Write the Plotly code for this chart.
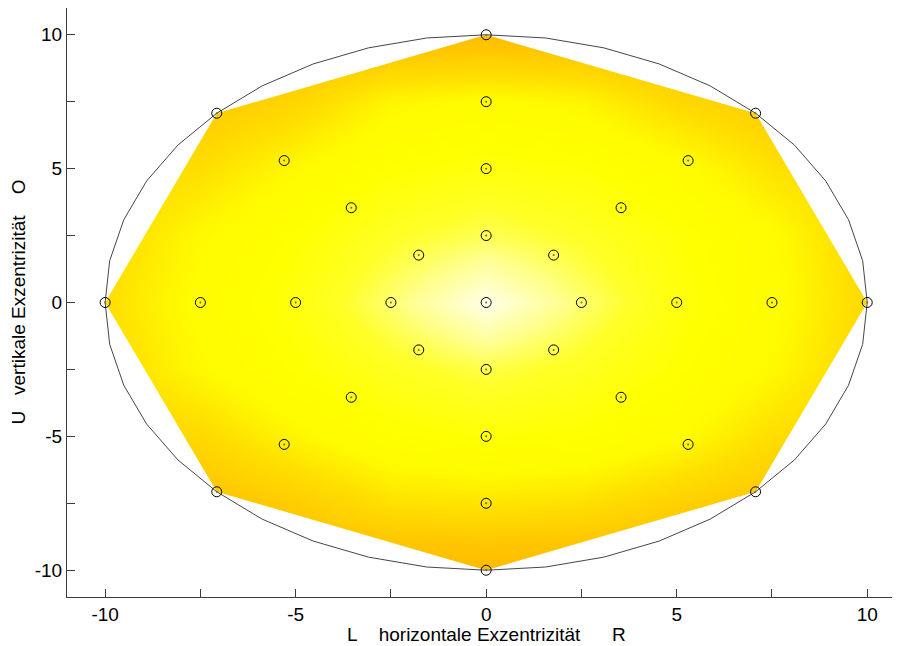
import plotly.graph_objects as go

# ---- data -------------------------------------------------------------
# measurement positions (degrees of eccentricity)
pt_x = [0,
        2.5, 5, 7.5, 10, -2.5, -5, -7.5, -10, 0, 0, 0, 0, 0, 0, 0, 0,
        1.77, 3.54, 5.3, 7.07, -1.77, -3.54, -5.3, -7.07,
        1.77, 3.54, 5.3, 7.07, -1.77, -3.54, -5.3, -7.07]
pt_y = [0,
        0, 0, 0, 0, 0, 0, 0, 0, 2.5, 5, 7.5, 10, -2.5, -5, -7.5, -10,
        1.77, 3.54, 5.3, 7.07, 1.77, 3.54, 5.3, 7.07,
        -1.77, -3.54, -5.3, -7.07, -1.77, -3.54, -5.3, -7.07]

# outer boundary of the tested field (octagon through outermost points)
edge_x = [-10, -7.07, 0, 7.07, 10, 7.07, 0, -7.07, -10]
edge_y = [0, 7.07, 10, 7.07, 0, -7.07, -10, -7.07, 0]

# reference circle (radius 10) polygon, 9 degree steps
circ_x = [10.0, 9.88, 9.51, 8.91, 8.09, 7.07, 5.88, 4.54, 3.09, 1.56, 0.0,
          -1.56, -3.09, -4.54, -5.88, -7.07, -8.09, -8.91, -9.51, -9.88, -10.0,
          -9.88, -9.51, -8.91, -8.09, -7.07, -5.88, -4.54, -3.09, -1.56, 0.0,
          1.56, 3.09, 4.54, 5.88, 7.07, 8.09, 8.91, 9.51, 9.88, 10.0]
circ_y = [0.0, 1.56, 3.09, 4.54, 5.88, 7.07, 8.09, 8.91, 9.51, 9.88, 10.0,
          9.88, 9.51, 8.91, 8.09, 7.07, 5.88, 4.54, 3.09, 1.56, 0.0,
          -1.56, -3.09, -4.54, -5.88, -7.07, -8.09, -8.91, -9.51, -9.88, -10.0,
          -9.88, -9.51, -8.91, -8.09, -7.07, -5.88, -4.54, -3.09, -1.56, 0.0]

# sensitivity map on a 2.5 deg grid (rows: y from -10 to 10)
grid_x = [-10, -7.5, -5, -2.5, 0, 2.5, 5, 7.5, 10]
grid_y = [-10, -7.5, -5, -2.5, 0, 2.5, 5, 7.5, 10]
grid_z = [
    [0.15, 0.08, 0.03, 0.00, 0.00, 0.00, 0.03, 0.08, 0.15],
    [0.18, 0.08, 0.15, 0.26, 0.28, 0.26, 0.17, 0.10, 0.18],
    [0.20, 0.22, 0.36, 0.48, 0.52, 0.50, 0.40, 0.25, 0.20],
    [0.22, 0.38, 0.50, 0.62, 0.70, 0.62, 0.50, 0.38, 0.20],
    [0.25, 0.42, 0.55, 0.76, 1.00, 0.76, 0.55, 0.42, 0.22],
    [0.22, 0.38, 0.50, 0.64, 0.72, 0.64, 0.52, 0.40, 0.20],
    [0.20, 0.25, 0.38, 0.50, 0.55, 0.52, 0.42, 0.27, 0.20],
    [0.18, 0.12, 0.20, 0.36, 0.40, 0.36, 0.22, 0.14, 0.18],
    [0.15, 0.10, 0.04, 0.03, 0.03, 0.03, 0.05, 0.12, 0.15],
]

tick_vals = [-10, -7.5, -5, -2.5, 0, 2.5, 5, 7.5, 10]
tick_text = ["-10", "", "-5", "", "0", "", "5", "", "10"]

colorscale = [
    [0.00, "rgb(255,185,0)"],
    [0.12, "rgb(255,200,0)"],
    [0.25, "rgb(255,222,0)"],
    [0.38, "rgb(255,250,0)"],
    [0.50, "rgb(255,255,0)"],
    [0.65, "rgb(255,255,40)"],
    [0.80, "rgb(255,255,140)"],
    [1.00, "rgb(255,255,235)"],
]

fig = go.Figure()

fig.add_trace(go.Heatmap(x=grid_x, y=grid_y, z=grid_z, zsmooth="best",
                         colorscale=colorscale, zmin=0, zmax=1,
                         showscale=False, hoverinfo="skip"))

# white mask outside the octagon (keyhole polygon)
R = 12
mask_x = [-R, R, R, -R, -R] + edge_x + [-R, -R]
mask_y = [-R, -R, R, R, 0] + edge_y + [0, -R]
fig.add_trace(go.Scatter(x=mask_x, y=mask_y, mode="lines", fill="toself",
                         fillcolor="white", line=dict(width=0, color="white"),
                         hoverinfo="skip", showlegend=False))

fig.add_trace(go.Scatter(x=circ_x, y=circ_y, mode="lines",
                         line=dict(color="rgb(70,70,70)", width=1),
                         hoverinfo="skip", showlegend=False))

fig.add_trace(go.Scatter(x=pt_x, y=pt_y, mode="markers",
                         marker=dict(symbol="circle-open", size=10,
                                     color="black", line=dict(width=1, color="black")),
                         showlegend=False))
fig.add_trace(go.Scatter(x=pt_x, y=pt_y, mode="markers",
                         marker=dict(symbol="circle", size=2, color="rgb(110,110,70)"),
                         showlegend=False, hoverinfo="skip"))

font = dict(family="Liberation Sans, Arial, sans-serif", size=19, color="black")
axis_common = dict(showgrid=False, zeroline=False, showline=True,
                   linecolor="rgb(60,60,60)", linewidth=1,
                   ticks="inside", ticklen=8, tickcolor="rgb(60,60,60)",
                   tickvals=tick_vals, ticktext=tick_text,
                   tickfont=font, mirror=False)

NB = "\u00a0"
fig.update_layout(
    width=892, height=638,
    margin=dict(l=59, r=0, t=0, b=49),
    paper_bgcolor="white", plot_bgcolor="white",
    xaxis=dict(range=[-11, 10.86], **axis_common),
    yaxis=dict(range=[-11, 11], **axis_common),
    showlegend=False,
    annotations=[
        dict(text="L" + NB * 3 + " horizontale Exzentrizität " + NB * 5 + "R",
             x=0, xref="x", y=-0.064, yref="paper", xanchor="center", yanchor="middle",
             showarrow=False, font=font),
        dict(text="U" + NB * 2 + " vertikale Exzentrizität " + NB * 3 + "O",
             x=-0.0588, xref="paper", y=0, yref="y", xanchor="center", yanchor="middle",
             textangle=-90, showarrow=False, font=font),
    ],
)

fig.write_html("out.html")
